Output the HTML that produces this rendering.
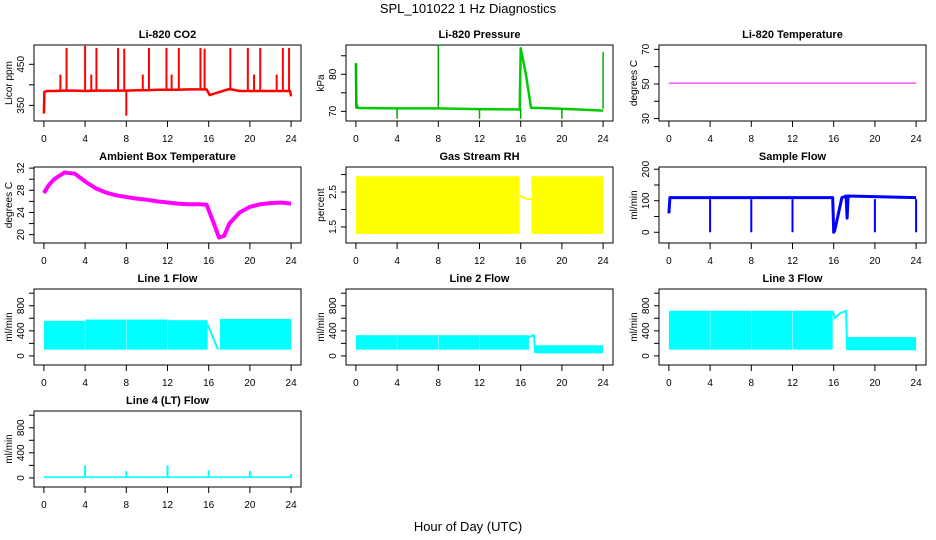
<!DOCTYPE html>
<html><head><meta charset="utf-8"><style>
body{margin:0;background:#fff}
svg{display:block;font-family:"Liberation Sans",sans-serif}
</style></head><body>
<svg id="c" width="936" height="540">
<text x="468" y="13" text-anchor="middle" font-size="13">SPL_101022  1 Hz Diagnostics</text>
<text x="468" y="531" text-anchor="middle" font-size="13">Hour of Day (UTC)</text>
</svg>
<script>
// ---- data ----
const xTicks = [0,4,8,12,16,20,24];
const co2Hours = [0,0.05,0.3,1,2,3,4,5,6,7,8,9,10,11,12,13,14,15,15.8,16.1,17,18,19,20,21,22,23,23.9,24];
const co2Vals = [330,383,385,385,386,386,385,386,386,386,386,387,387,388,388,388,389,389,389,375,382,390,385,385,385,385,385,385,372];
const co2SpikeHours = [1.6,2.2,4.0,4.6,5.1,7.2,7.8,8.0,9.6,10.2,11.9,12.4,13.1,15.2,15.6,18.1,19.8,20.4,21.0,22.6,23.2,23.8];
const co2SpikeVals = [425,490,495,425,490,490,488,325,425,490,490,425,490,490,488,490,490,425,490,425,490,490];
const presHours = [0,0.05,0.2,4,8,12,15.9,16,16.5,17,20,24];
const presVals = [83,72,70.9,70.8,70.8,70.6,70.5,87,80,71,70.7,70.2];
const presSpikeHours = [0,4,8,12,16,20,24];
const presSpikeVals = [83,68,88,68,68,68,86];
const tempHours = [0,24];
const tempVals = [50.5,50.5];
const ambHours = [0,0.5,1,2,3,4,5,6,7,8,9,10,11,12,13,14,15,15.8,16.5,17,17.5,18,19,20,21,22,23,24];
const ambVals = [27.5,29,30,31.2,31,29.6,28.4,27.6,27.1,26.8,26.5,26.3,26,25.8,25.6,25.5,25.5,25.4,22,19.5,19.8,22,24,25,25.5,25.7,25.8,25.6];
const rhBandStart = [0,17.05];
const rhBandEnd = [15.9,24];
const rhBandLo = [1.3,1.3];
const rhBandHi = [2.95,2.95];
const rhGapHours = [15.9,16.2,16.6,17.05];
const rhGapVals = [2.4,2.35,2.3,2.3];
const sampHours = [0,0.1,15.9,16,16.1,16.8,17.2,17.3,17.4,24];
const sampVals = [60,110,110,0,5,110,115,45,115,110];
const sampSpikeHours = [4,8,12,20,24];
const sampSpikeVals = [0,0,0,0,0];
const l1Start = [0,4.02,8.02,12.02,17.1];
const l1End = [3.98,7.98,11.98,15.9,24];
const l1Lo = [100,100,100,100,100];
const l1Hi = [560,580,580,570,590];
const l1RampHours = [15.9,16.9];
const l1RampVals = [500,100];
const l2Start = [0,4.02,8.02,12.02,17.4];
const l2End = [3.98,7.98,11.98,16.8,24];
const l2Lo = [100,100,100,100,40];
const l2Hi = [330,330,330,330,170];
const l2RampHours = [16.8,17.3,17.4];
const l2RampVals = [300,330,50];
const l3Start = [0,4.02,8.02,12.02,17.3];
const l3End = [3.98,7.98,11.98,15.9,24];
const l3Lo = [100,100,100,100,90];
const l3Hi = [720,720,720,720,300];
const l3RampHours = [15.9,16.1,16.6,17.2,17.3];
const l3RampVals = [720,600,680,720,100];
const l4Start = [0];
const l4End = [24];
const l4Lo = [0];
const l4Hi = [25];
const l4SpikeHours = [4,8,12,16,20,24];
const l4SpikeVals = [200,110,200,120,110,60];

// ---- layout ----
const NS="http://www.w3.org/2000/svg";
const svg=document.getElementById('c');
const lefts=[34,346,659], tops=[45,167,289,411], W=267, H=76;
function mk(tag,attrs,parent){const e=document.createElementNS(NS,tag);for(const k in attrs)e.setAttribute(k,attrs[k]);(parent||svg).appendChild(e);return e;}

function panel(col,row,name,title,ylab,ymin,ymax,yticks,ylabels){
  const g=mk('g',{});
  
  
  const L=lefts[col],T=tops[row];
  const p={g,L,T,
    x:h=>L+9.9+h*10.3,
    y:v=>T+H-(v-ymin)/(ymax-ymin)*H};
  const t=mk('text',{x:L+W/2,y:T-7,'text-anchor':'middle','font-size':11,'font-weight':'bold'},g);
  t.textContent=title;
  
  
  const b=mk('rect',{x:L,y:T,width:W,height:H,fill:'none',stroke:'#000','stroke-width':1},g);
  
  
  const xa=mk('g',{},g);
  
  
  mk('line',{x1:p.x(0),x2:p.x(24),y1:T+H,y2:T+H,stroke:'#000'},xa);
  xTicks.forEach(h=>{
    mk('line',{x1:p.x(h),x2:p.x(h),y1:T+H,y2:T+H+6,stroke:'#000'},xa);
    const l=mk('text',{x:p.x(h),y:T+H+21,'text-anchor':'middle','font-size':10},xa);
    l.textContent=h;
  });
  const ya=mk('g',{},g);
  
  
  mk('line',{x1:L,x2:L,y1:p.y(yticks[0]),y2:p.y(yticks[yticks.length-1]),stroke:'#000'},ya);
  yticks.forEach(v=>mk('line',{x1:L-5,x2:L,y1:p.y(v),y2:p.y(v),stroke:'#000'},ya));
  ylabels.forEach(v=>{
    const yy=p.y(v);
    const l=mk('text',{x:L-10,y:yy,'text-anchor':'middle','font-size':10,transform:`rotate(-90 ${L-10} ${yy})`},ya);
    l.textContent=v;
  });
  const yl=mk('text',{x:L-22,y:T+H/2,'text-anchor':'middle','font-size':10,transform:`rotate(-90 ${L-22} ${T+H/2})`},g);
  yl.textContent=ylab;
  
  
  return p;
}
function line(p,xs,ys,color,w,name){
  const d=xs.map((h,i)=>(i?'L':'M')+p.x(h).toFixed(1)+' '+p.y(ys[i]).toFixed(1)).join(' ');
  const e=mk('path',{d,fill:'none',stroke:color,'stroke-width':w,'stroke-linejoin':'round'},p.g);
  
  
}
function spikes(p,xs,ys,base,color,w,name){
  xs.forEach((h,i)=>{
    const e=mk('line',{x1:p.x(h),x2:p.x(h),y1:p.y(base),y2:p.y(ys[i]),stroke:color,'stroke-width':w},p.g);
    
    
  });
}
function bands(p,st,en,lo,hi,color,name){
  st.forEach((s,i)=>{
    const x1=p.x(s),x2=p.x(en[i]),y1=p.y(hi[i]),y2=p.y(lo[i]);
    const e=mk('rect',{x:x1,y:y1,width:x2-x1,height:y2-y1,fill:color},p.g);
    
    
  });
}
const flowTicks=[0,200,400,600,800,1000], flowLabels=[0,400,800];

let p=panel(0,0,'co2','Li-820 CO2','Licor ppm',312,497,[350,400,450],[350,450]);
line(p,co2Hours,co2Vals,'#ff0000',2.5,'co2-line');
spikes(p,co2SpikeHours,co2SpikeVals,386,'#ff0000',2,'co2-spike');

p=panel(1,0,'pressure','Li-820 Pressure','kPa',67.4,87.9,[70,75,80,85],[70,80]);
line(p,presHours,presVals,'#00cc00',2.5,'pressure-line');
spikes(p,presSpikeHours,presSpikeVals,70.7,'#00aa00',1.5,'pressure-spike');

p=panel(2,0,'temperature','Li-820 Temperature','degrees C',28.6,72.5,[30,40,50,60,70],[30,50,70]);
line(p,tempHours,tempVals,'#ff00ff',1,'temperature-line');

p=panel(0,1,'ambient','Ambient Box Temperature','degrees C',18.5,32.2,[20,22,24,26,28,30,32],[20,24,28,32]);
line(p,ambHours,ambVals,'#ff00ff',4,'ambient-line');

p=panel(1,1,'rh','Gas Stream RH','percent',1.04,3.216,[1.5,2,2.5,3],[1.5,2.5]);
bands(p,rhBandStart,rhBandEnd,rhBandLo,rhBandHi,'#ffff00','rh-band');
line(p,rhGapHours,rhGapVals,'#ffff00',2,'rh-gap-line');

p=panel(2,1,'sample-flow','Sample Flow','ml/min',-34,207,[0,50,100,150,200],[0,100,200]);
line(p,sampHours,sampVals,'#0000ff',3,'sample-flow-line');
spikes(p,sampSpikeHours,sampSpikeVals,105,'#0000ff',2,'sample-flow-drop');

p=panel(0,2,'line1-flow','Line 1 Flow','ml/min',-145,1067,flowTicks,flowLabels);
bands(p,l1Start,l1End,l1Lo,l1Hi,'#00ffff','line1-band');
line(p,l1RampHours,l1RampVals,'#00ffff',2,'line1-ramp');

p=panel(1,2,'line2-flow','Line 2 Flow','ml/min',-145,1067,flowTicks,flowLabels);
bands(p,l2Start,l2End,l2Lo,l2Hi,'#00ffff','line2-band');
line(p,l2RampHours,l2RampVals,'#00ffff',2,'line2-ramp');

p=panel(2,2,'line3-flow','Line 3 Flow','ml/min',-145,1067,flowTicks,flowLabels);
bands(p,l3Start,l3End,l3Lo,l3Hi,'#00ffff','line3-band');
line(p,l3RampHours,l3RampVals,'#00ffff',2,'line3-ramp');

p=panel(0,3,'line4-flow','Line 4 (LT) Flow','ml/min',-145,1067,flowTicks,flowLabels);
bands(p,l4Start,l4End,l4Lo,l4Hi,'#00ffff','line4-band');
spikes(p,l4SpikeHours,l4SpikeVals,10,'#00ffff',2,'line4-spike');
</script>
</body></html>
